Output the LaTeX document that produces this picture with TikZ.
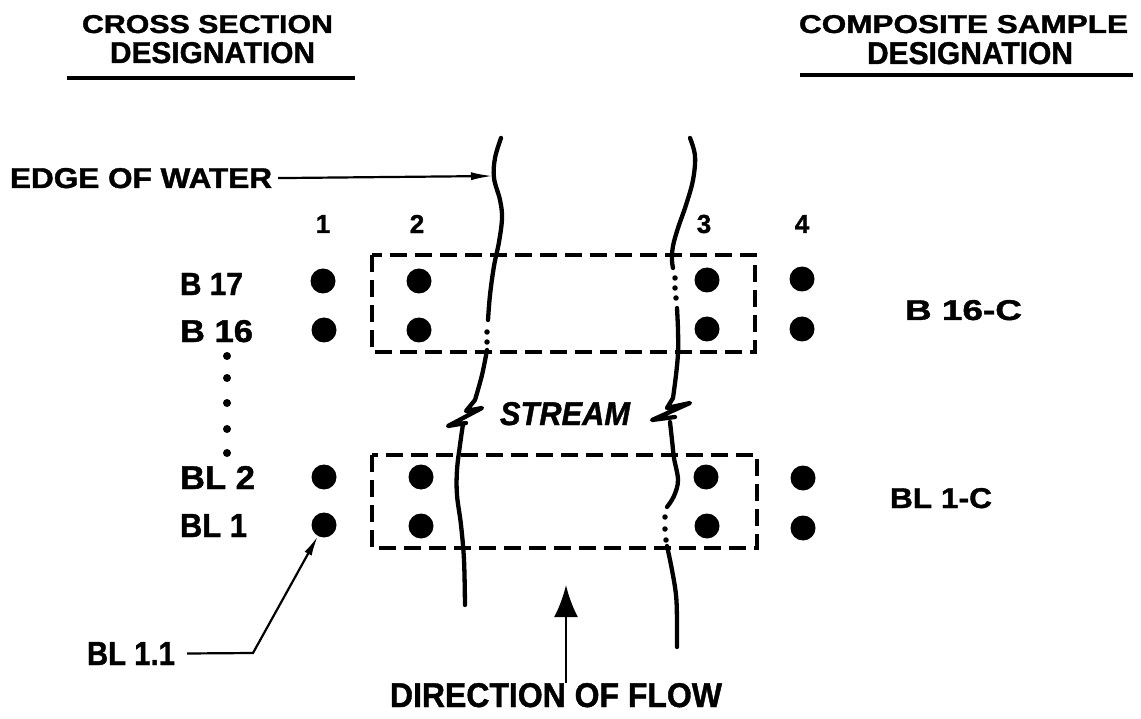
\documentclass[tikz,border=0pt]{standalone}
\usepackage{fontspec}
\setmainfont{Liberation Sans}[BoldFeatures={FakeBold=1.2},BoldItalicFeatures={FakeBold=1.2}]
\usepackage{graphicx}
\usetikzlibrary{arrows.meta}
\newcommand\fitt[3]{\resizebox{#1pt}{#2pt}{\bfseries #3}}
\newcommand\fitti[3]{\resizebox{#1pt}{#2pt}{\bfseries\itshape #3}}
\begin{document}
\begin{tikzpicture}[x=1pt,y=-1pt,
  lbl/.style={inner sep=0pt, outer sep=0pt, anchor=north west},
  num/.style={inner sep=0pt, outer sep=0pt, font=\fontsize{26}{26}\selectfont\bfseries},
  dot/.style={circle, fill=black, inner sep=0pt, minimum size=25pt},
  sdot/.style={circle, fill=black, inner sep=0pt, minimum size=8pt},
  tdot/.style={circle, fill=black, inner sep=0pt, minimum size=5.5pt},
  shore/.style={line width=4.3pt, line cap=round, line join=round},
  boxline/.style={line width=3.8pt, dash pattern=on 17pt off 8pt},
  leader/.style={line width=2.2pt},
  rule/.style={line width=4pt},
]
\fill[white] (0,0) rectangle (1141,719);
\useasboundingbox (0,0) rectangle (1141,719);

% titles
\node[lbl] (cs1) at (82,15) {\fitt{251}{18}{CROSS SECTION}};
\node[lbl] (cs2) at (110,42) {\fitt{205}{21}{DESIGNATION}};
\draw[rule] (67,78) -- (355,78);
\node[lbl] (cp1) at (799,15) {\fitt{329}{18}{COMPOSITE SAMPLE}};
\node[lbl] (cp2) at (867,42) {\fitt{206}{22}{DESIGNATION}};
\draw[rule] (800,75) -- (1133,75);

% column numbers
\node[num] (n1) at (323,224) {1};
\node[num] (n2) at (417,224) {2};
\node[num] (n3) at (704,224) {3};
\node[num] (n4) at (802,224) {4};

% row labels
\node[lbl] (r17) at (180,273) {\fitt{63}{22}{B 17}};
\node[lbl] (r16) at (180,320) {\fitt{73}{22}{B 16}};
\node[lbl] (rl2) at (180,466) {\fitt{75}{23}{BL 2}};
\node[lbl] (rl1) at (180,514) {\fitt{67}{23}{BL 1}};
\node[lbl] (bl11) at (87,642) {\fitt{88}{23}{BL 1.1}};

% composite labels
\node[lbl] (c16) at (905,300) {\fitt{117}{20}{B 16-C}};
\node[lbl] (cl1) at (890,488) {\fitt{102}{20}{BL 1-C}};

% other texts
\node[lbl] (eow) at (10,168) {\fitt{262}{20}{EDGE OF WATER}};
\node[lbl] (stream) at (500,402) {\fitti{130}{23}{STREAM}};
\node[lbl] (dof) at (390,683) {\fitt{332}{24}{DIRECTION OF FLOW}};

% sample dots
\node[dot] (d11) at (323,281) {};
\node[dot] (d12) at (419,281) {};
\node[dot] (d13) at (707,280) {};
\node[dot] (d14) at (802,279) {};
\node[dot] (d21) at (324,330) {};
\node[dot] (d22) at (419,330) {};
\node[dot] (d23) at (707,329) {};
\node[dot] (d24) at (802,329) {};
\node[dot] (d31) at (324,477) {};
\node[dot] (d32) at (421,477) {};
\node[dot] (d33) at (706,477) {};
\node[dot] (d34) at (803,478) {};
\node[dot] (d41) at (324,525) {};
\node[dot] (d42) at (421,526) {};
\node[dot] (d43) at (707,526) {};
\node[dot] (d44) at (803,528) {};

% vertical ellipsis
\foreach \i/\yy in {1/356,2/378,3/403,4/429,5/453}
  \node[sdot] (v\i) at (227,\yy) {};

% composite boxes
\draw[boxline] (372,255) rectangle (755,352);
\draw[boxline] (372,455) rectangle (757,548);

% left edge of water
\draw[shore] plot[smooth, tension=0.6] coordinates {(501,138) (495,158) (494,178) (500,200) (502,218) (499,242) (494,266) (490,295) (488,320)};
\node[tdot] (la) at (487,332) {};
\node[tdot] (lb) at (487,342) {};
\draw[shore] plot[smooth, tension=0.6] coordinates {(487,350) (482,375) (475,400)} -- (466,411) -- (482,408) -- (448,426) -- (466,423);
\draw[shore] plot[smooth, tension=0.6] coordinates {(463,424) (460,445) (457,470) (457,495) (461,525) (464,560) (465,605)};

% right edge of water
\draw[shore] plot[smooth, tension=0.6] coordinates {(690,138) (695,156) (693,180) (686,205) (678,228) (673,246) (672,260) (673,268)};
\node[tdot] (ra) at (675,278) {};
\node[tdot] (rb) at (675,288) {};
\node[tdot] (rc) at (676,298) {};
\draw[shore] plot[smooth, tension=0.6] coordinates {(677,308) (678,330) (678,353) (676,375) (673,398)} -- (667,408) -- (690,403) -- (652,420) -- (675,417);
\draw[shore] plot[smooth, tension=0.6] coordinates {(670,422) (672,440) (674,458) (678,480) (674,496) (667,507)};
\node[tdot] (rd) at (665,517) {};
\node[tdot] (re) at (665,529) {};
\node[tdot] (rf) at (666,540) {};
\draw[shore] plot[smooth, tension=0.6] coordinates {(667,546) (672,570) (676,595) (677,620) (677,647)};

% leaders
\coordinate (ew) at (493,176);
\draw[leader, shorten <=6pt, -{Latex[length=22pt,width=8pt]}] (eow.east) -- (ew);
\coordinate (bend) at (253,653);
\draw[leader, -{Latex[length=20pt,width=8pt]}] ([xshift=12pt]bl11.east) -- (bend) -- (d41);

% flow arrow
\coordinate (ftip) at (566,585);
\draw[line width=2.8pt, -{Latex[length=32pt,width=24pt]}] (dof.north -| ftip) -- (ftip);
\end{tikzpicture}
\end{document}
